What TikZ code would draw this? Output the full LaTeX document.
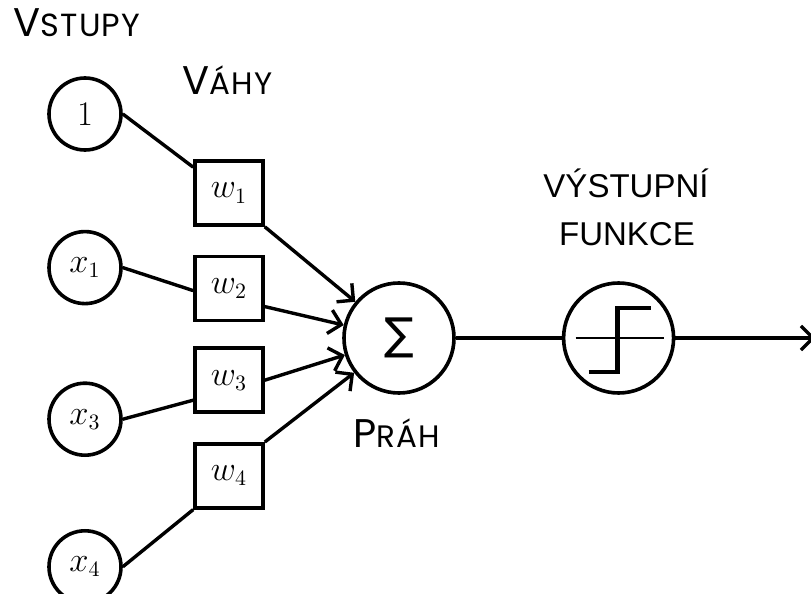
\documentclass[tikz,border=0pt]{standalone}
\usepackage{fontspec}
\newfontfamily\capfont[LetterSpace=4]{Poppins}
\newfontfamily\outfont{Liberation Sans}
\newfontfamily\symfont{DejaVu Sans}
\usepackage{tikz}
\usetikzlibrary{shapes,arrows.meta,positioning,calc}

\begin{document}
\begin{tikzpicture}[x=0.5pt,y=-0.5pt]
    % Define styles
    \tikzstyle{input} = [circle, draw=black, line width=1.8pt, minimum size=36pt, inner sep=0pt, font=\fontsize{16}{18}\selectfont]
    \tikzstyle{weight} = [rectangle, draw=black, line width=1.8pt, minimum width=34pt, minimum height=32pt, inner sep=0pt, font=\fontsize{16}{18}\selectfont]
    \tikzstyle{unit} = [circle, draw=black, line width=1.8pt, minimum size=55pt, inner sep=0pt]
    \tikzstyle{caption} = [inner sep=0pt, font=\capfont]
    \tikzstyle{line} = [line width=1.7pt]
    \tikzstyle{arrow} = [line width=1.7pt, -{Straight Barb[length=6pt,width=12pt]}]

    \useasboundingbox (0,0) rectangle (811,594);

    % Inputs
    \node (in1) [input] at (85,114) {$1$};
    \node (x1) [input, below=39pt of in1] {$x_1$};
    \node (x3) [input, below=38pt of x1] {$x_3$};
    \node (x4) [input, below=36pt of x3] {$x_4$};

    % Weights
    \node (w1) [weight] at (229,193) {$w_1$};
    \node (w2) [weight, below=14pt of w1] {$w_2$};
    \node (w3) [weight, below=12pt of w2] {$w_3$};
    \node (w4) [weight, below=14pt of w3] {$w_4$};

    % Sum and output function
    \node (sum) [unit, font=\symfont\fontsize{22}{24}\selectfont] at (399,338) {∑};
    \node (step) [unit, right=53pt of sum] {};
    \coordinate [right=70pt of step] (out);

    % Labels
    \node (vstupy) [caption, anchor=base west] at (13,37) {{\fontsize{20}{22}\selectfont V}{\fontsize{16}{18}\selectfont STUPY}};
    \node (vahy) [caption, anchor=base west] at (182,95) {{\fontsize{20}{22}\selectfont V}{\fontsize{15.5}{18}\selectfont ÁHY}};
    \node (prah) [caption, anchor=base west] at (353,447) {{\fontsize{20}{22}\selectfont P}{\fontsize{15.5}{18}\selectfont RÁH}};
    \node (vystup) [caption, font=\outfont\fontsize{16.5}{19}\selectfont, anchor=base] at (626,198) {VÝSTUPNÍ};
    \node (funkce) [caption, font=\outfont\fontsize{16.5}{19}\selectfont, anchor=base] at (627,245) {FUNKCE};

    % Step inside the output function
    \draw [line width=0.7pt] ($(step)+(-43,0)$) -- ($(step)+(45,0)$);
    \draw [line width=2.2pt] ($(step)+(-30,34)$) -- ($(step)+(-1,34)$) -- ($(step)+(-1,-30)$) -- ($(step)+(32,-30)$);

    % Connectors
    \draw [line] (in1.east) -- ([yshift=-4pt]w1.north west);
    \draw [line] (x1.east) -- ([yshift=-1pt]w2.west);
    \draw [line] (x3.east) -- ([yshift=-10pt]w3.west);
    \draw [line] (x4.east) -- (w4.south west);
    \draw [arrow] (w1.south east) -- (sum);
    \draw [arrow] ([yshift=-9pt]w2.east) -- (sum);
    \draw [arrow] (w3.east) -- (sum);
    \draw [arrow] (w4.north east) -- (sum);
    \draw [line] (sum) -- (step);
    \draw [arrow] (step) -- (out);
\end{tikzpicture}
\end{document}
